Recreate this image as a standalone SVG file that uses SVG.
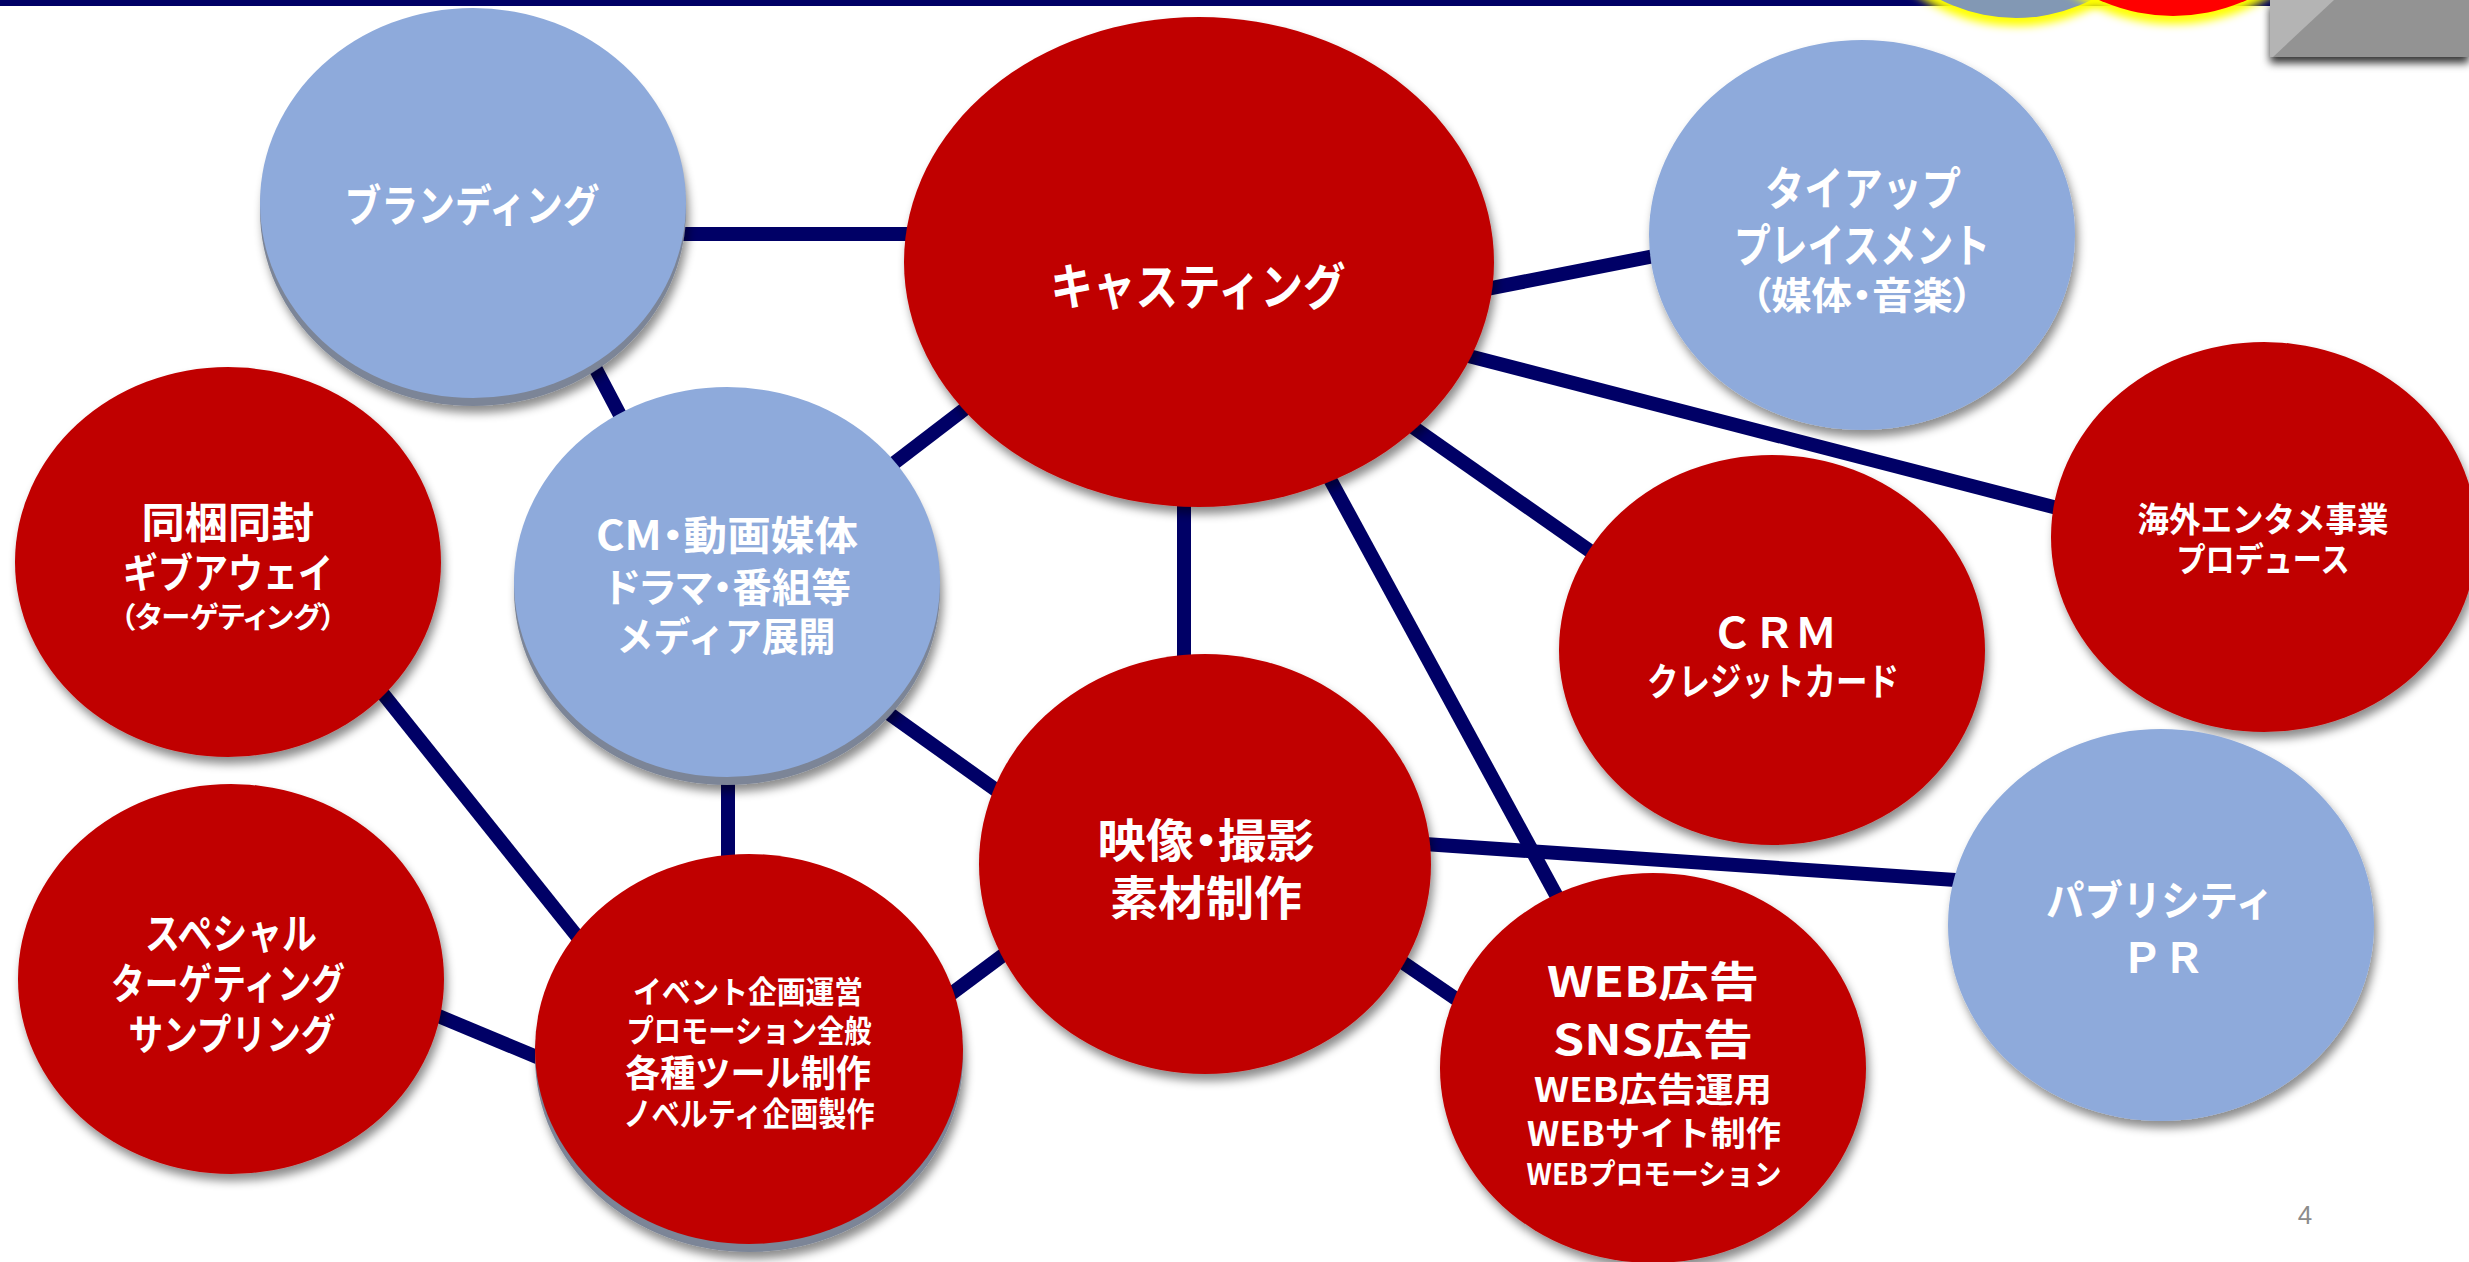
<svg xmlns="http://www.w3.org/2000/svg" width="2469" height="1262" viewBox="0 0 2469 1262">
<style>
.ln{stroke:#000066;stroke-width:14;fill:none}
.red{fill:#c00000}
.blue{fill:#8eaadb}
.band{fill:#7c8597}
.t{font-family:"Noto Sans CJK JP","Noto Sans",sans-serif;font-weight:700;fill:#ffffff;text-anchor:middle;dominant-baseline:central}
.p{font-feature-settings:"palt"}
</style>
<defs>
<filter id="sh" x="-10%" y="-10%" width="125%" height="130%">
<feGaussianBlur in="SourceAlpha" stdDeviation="5"/>
<feOffset dx="3" dy="7" result="b"/>
<feFlood flood-color="#000" flood-opacity="0.45"/>
<feComposite in2="b" operator="in"/>
<feMerge><feMergeNode/><feMergeNode in="SourceGraphic"/></feMerge>
</filter>
<filter id="glow" x="-30%" y="-30%" width="160%" height="160%">
<feGaussianBlur stdDeviation="4"/>
</filter>
<filter id="rsh" x="-5%" y="-20%" width="110%" height="160%">
<feGaussianBlur in="SourceAlpha" stdDeviation="4"/>
<feOffset dx="0" dy="6" result="b"/>
<feFlood flood-color="#000" flood-opacity="0.8"/>
<feComposite in2="b" operator="in"/>
<feMerge><feMergeNode/><feMergeNode in="SourceGraphic"/></feMerge>
</filter>
</defs>
<rect width="2469" height="1262" fill="#ffffff"/>
<g id="header">
<rect x="0" y="0" width="2469" height="6" fill="#000066"/>
<circle cx="2016" cy="-148" r="174" fill="#ffff00" filter="url(#glow)"/>
<circle cx="2016" cy="-148" r="166" fill="#8298b4"/>
<circle cx="2173" cy="-163" r="187" fill="#ffff00" filter="url(#glow)"/>
<circle cx="2173" cy="-163" r="179" fill="#ff0000"/>
<g filter="url(#rsh)">
<rect x="2270" y="0" width="199" height="57" fill="#939393"/>
</g>
<polygon points="2270,0 2334,0 2273,57 2270,57" fill="#b4b4b4"/>
</g>
<g id="connectors">
<line class="ln" x1="650" y1="234" x2="950" y2="234"/>
<line class="ln" x1="570" y1="320" x2="650" y2="472"/>
<line class="ln" x1="855" y1="493" x2="1000" y2="382"/>
<line class="ln" x1="870" y1="700" x2="1010" y2="800"/>
<line class="ln" x1="728" y1="760" x2="728" y2="870"/>
<line class="ln" x1="1184" y1="480" x2="1184" y2="680"/>
<line class="ln" x1="1380" y1="310" x2="1700" y2="247"/>
<line class="ln" x1="1360" y1="328" x2="2100" y2="519"/>
<line class="ln" x1="1400" y1="418" x2="1620" y2="572"/>
<line class="ln" x1="1325" y1="470" x2="1586" y2="950"/>
<line class="ln" x1="1380" y1="841" x2="2000" y2="883"/>
<line class="ln" x1="1370" y1="940" x2="1500" y2="1029"/>
<line class="ln" x1="900" y1="1032" x2="1050" y2="920"/>
<line class="ln" x1="340" y1="640" x2="620" y2="990"/>
<line class="ln" x1="400" y1="1000" x2="580" y2="1075"/>
</g>
<g id="n-branding">
<ellipse class="band" cx="473" cy="211" rx="213" ry="195" filter="url(#sh)"/>
<ellipse class="blue" cx="473" cy="203" rx="213" ry="195"/>
<text class="t" x="472" y="203" font-size="44" textLength="255" lengthAdjust="spacingAndGlyphs">ブランディング</text>
</g>
<g id="n-casting">
<ellipse class="red" cx="1199" cy="262" rx="295" ry="245" filter="url(#sh)"/>
<text class="t" x="1198" y="283" font-size="50" textLength="295" lengthAdjust="spacingAndGlyphs">キャスティング</text>
</g>
<g id="n-tieup">
<ellipse class="blue" cx="1862" cy="235" rx="213" ry="195" filter="url(#sh)"/>
<text class="t" x="1863" y="185" font-size="46" textLength="196" lengthAdjust="spacingAndGlyphs">タイアップ</text>
<text class="t" x="1862" y="242" font-size="46" textLength="256" lengthAdjust="spacingAndGlyphs">プレイスメント</text>
<text class="t p" x="1862" y="292" font-size="38" textLength="222" lengthAdjust="spacingAndGlyphs">（媒体・音楽）</text>
</g>
<g id="n-overseas">
<ellipse class="red" cx="2264" cy="537" rx="213" ry="195" filter="url(#sh)"/>
<text class="t" x="2263" y="517" font-size="34" textLength="251" lengthAdjust="spacingAndGlyphs">海外エンタメ事業</text>
<text class="t" x="2263" y="557" font-size="34" textLength="173" lengthAdjust="spacingAndGlyphs">プロデュース</text>
</g>
<g id="n-doukon">
<ellipse class="red" cx="228" cy="562" rx="213" ry="195" filter="url(#sh)"/>
<text class="t" x="228" y="519" font-size="42" textLength="173" lengthAdjust="spacingAndGlyphs">同梱同封</text>
<text class="t" x="228" y="570" font-size="41" textLength="210" lengthAdjust="spacingAndGlyphs">ギブアウェイ</text>
<text class="t p" x="228" y="615" font-size="29" textLength="215" lengthAdjust="spacingAndGlyphs">（ターゲティング）</text>
</g>
<g id="n-cm">
<ellipse class="band" cx="727" cy="590" rx="213" ry="195" filter="url(#sh)"/>
<ellipse class="blue" cx="727" cy="582" rx="213" ry="195"/>
<text class="t p" x="727" y="533" font-size="40" textLength="262" lengthAdjust="spacingAndGlyphs">CM・動画媒体</text>
<text class="t p" x="728" y="585" font-size="40" textLength="246" lengthAdjust="spacingAndGlyphs">ドラマ・番組等</text>
<text class="t" x="726" y="634" font-size="40" textLength="219" lengthAdjust="spacingAndGlyphs">メディア展開</text>
</g>
<g id="n-special">
<ellipse class="red" cx="231" cy="979" rx="213" ry="195" filter="url(#sh)"/>
<text class="t" x="231" y="930" font-size="42" textLength="172" lengthAdjust="spacingAndGlyphs">スペシャル</text>
<text class="t" x="228" y="980" font-size="42" textLength="234" lengthAdjust="spacingAndGlyphs">ターゲティング</text>
<text class="t" x="232" y="1031" font-size="42" textLength="207" lengthAdjust="spacingAndGlyphs">サンプリング</text>
</g>
<g id="n-event">
<ellipse class="band" cx="749" cy="1057" rx="214" ry="195" filter="url(#sh)"/>
<ellipse class="red" cx="749" cy="1049" rx="214" ry="195"/>
<text class="t" x="748" y="989" font-size="31" textLength="230" lengthAdjust="spacingAndGlyphs">イベント企画運営</text>
<text class="t" x="749" y="1028" font-size="31" textLength="245" lengthAdjust="spacingAndGlyphs">プロモーション全般</text>
<text class="t" x="748" y="1071" font-size="37" textLength="246" lengthAdjust="spacingAndGlyphs">各種ツール制作</text>
<text class="t" x="749" y="1112" font-size="33" textLength="251" lengthAdjust="spacingAndGlyphs">ノベルティ企画製作</text>
</g>
<g id="n-video">
<ellipse class="red" cx="1205" cy="864" rx="226" ry="210" filter="url(#sh)"/>
<text class="t p" x="1206" y="837" font-size="46" textLength="217" lengthAdjust="spacingAndGlyphs">映像・撮影</text>
<text class="t" x="1206" y="894" font-size="47" textLength="192" lengthAdjust="spacingAndGlyphs">素材制作</text>
</g>
<g id="n-crm">
<ellipse class="red" cx="1772" cy="650" rx="213" ry="195" filter="url(#sh)"/>
<text class="t" x="1774" y="629" font-size="42" textLength="126" lengthAdjust="spacingAndGlyphs">ＣＲＭ</text>
<text class="t" x="1773" y="678" font-size="38" textLength="252" lengthAdjust="spacingAndGlyphs">クレジットカード</text>
</g>
<g id="n-web">
<ellipse class="red" cx="1653" cy="1068" rx="213" ry="195" filter="url(#sh)"/>
<text class="t" x="1653" y="978" font-size="42" textLength="212" lengthAdjust="spacingAndGlyphs">WEB広告</text>
<text class="t" x="1653" y="1036" font-size="42" textLength="200" lengthAdjust="spacingAndGlyphs">SNS広告</text>
<text class="t" x="1653" y="1087" font-size="34" textLength="238" lengthAdjust="spacingAndGlyphs">WEB広告運用</text>
<text class="t" x="1654" y="1131" font-size="34" textLength="254" lengthAdjust="spacingAndGlyphs">WEBサイト制作</text>
<text class="t" x="1654" y="1172" font-size="29" textLength="255" lengthAdjust="spacingAndGlyphs">WEBプロモーション</text>
</g>
<g id="n-pr">
<ellipse class="blue" cx="2161" cy="925" rx="213" ry="196" filter="url(#sh)"/>
<text class="t" x="2160" y="897" font-size="42" textLength="228" lengthAdjust="spacingAndGlyphs">パブリシティ</text>
<text class="t" x="2163" y="954" font-size="42" textLength="84" lengthAdjust="spacingAndGlyphs">ＰＲ</text>
</g>
<text x="2305" y="1224" font-family="Liberation Sans, Arial, sans-serif" font-size="26" fill="#8c8c8c" text-anchor="middle">4</text>
</svg>
